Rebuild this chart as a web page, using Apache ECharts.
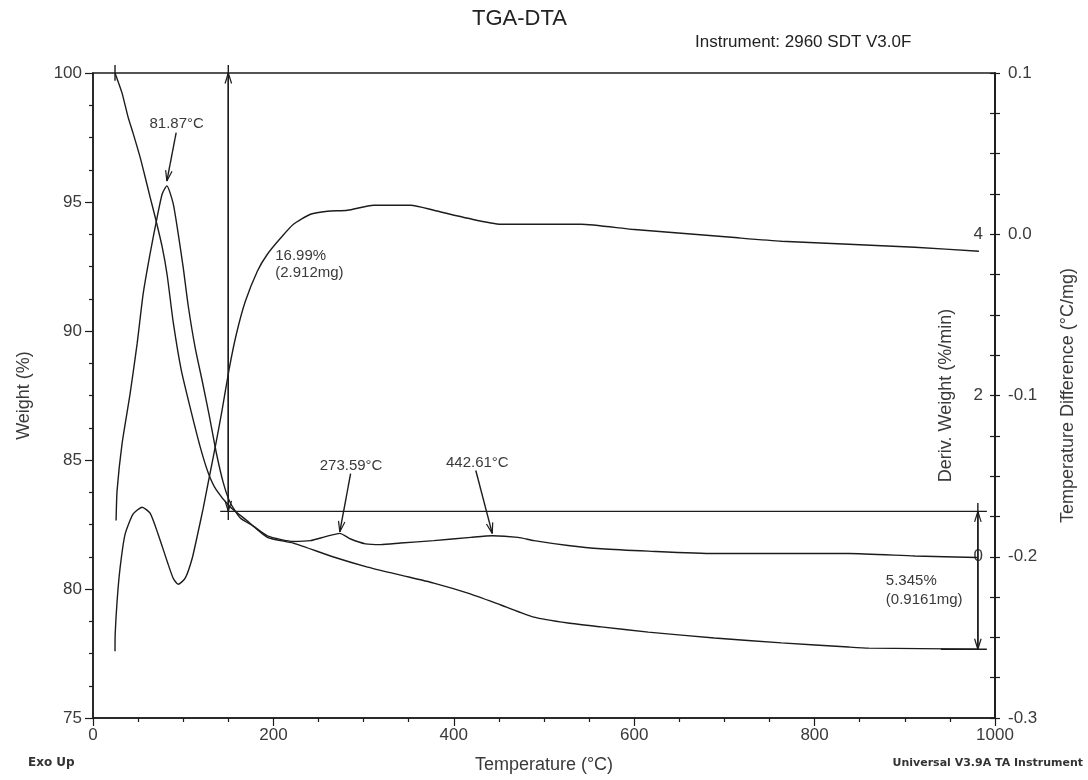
<!DOCTYPE html>
<html>
<head>
<meta charset="utf-8">
<script src="https://cdn.jsdelivr.net/npm/echarts@6/dist/echarts.min.js"></script>
<style>
html,body{margin:0;padding:0;background:#fff;}
#chart{width:1088px;height:780px;}
</style>
</head>
<body>
<div id="chart"></div>
<script>
// ---------- DATA ----------
// TGA weight curve (Temperature °C, Weight %)
const tgaTemp = [24.4, 32.2, 38.9, 44.4, 52.2, 57.8, 63.3, 68.9, 76.7, 82.2, 88.9, 97.8, 107.8, 118.9, 127.8, 136.7, 152.2, 170.0, 193.3, 222.0, 266.7, 304.4, 341.1, 377.8, 415.6, 452.2, 488.9, 526.7, 563.3, 615.6, 688.9, 763.3, 837.8, 860.0, 980.0];
const tgaWeight = [100.0, 99.22, 98.29, 97.67, 96.74, 95.97, 95.19, 94.42, 93.26, 92.17, 90.35, 88.49, 87.02, 85.50, 84.50, 83.84, 83.18, 82.67, 82.00, 81.78, 81.24, 80.85, 80.54, 80.23, 79.84, 79.38, 78.91, 78.68, 78.53, 78.33, 78.10, 77.91, 77.75, 77.71, 77.67];

// DTG derivative weight curve (Temperature °C, %/min)
const dtgTemp = [25.6, 26.7, 32.2, 41.1, 48.9, 55.6, 63.3, 71.1, 76.7, 81.87, 88.9, 94.4, 100.0, 105.6, 113.3, 121.1, 128.9, 136.7, 144.4, 152.2, 163.3, 177.8, 193.3, 222.2, 241.1, 257.8, 273.59, 285.6, 302.2, 318.9, 341.1, 377.8, 418.9, 442.61, 471.1, 488.9, 526.7, 563.3, 615.6, 688.9, 763.3, 837.8, 911.1, 980.0];
const dtgDeriv = [0.45, 0.82, 1.40, 2.02, 2.64, 3.26, 3.76, 4.21, 4.50, 4.60, 4.38, 4.01, 3.59, 3.11, 2.59, 2.18, 1.75, 1.29, 0.92, 0.67, 0.48, 0.38, 0.26, 0.19, 0.20, 0.25, 0.29, 0.22, 0.16, 0.15, 0.17, 0.20, 0.24, 0.26, 0.24, 0.20, 0.14, 0.10, 0.07, 0.04, 0.04, 0.04, 0.01, -0.01];

// DTA temperature difference curve (Temperature °C, °C/mg)
const dtaTemp = [24.4, 24.6, 26.7, 30.0, 35.6, 44.4, 54.4, 63.3, 72.2, 82.2, 88.9, 94.4, 102.2, 110.0, 116.7, 122.2, 127.8, 136.7, 143.3, 151.1, 158.9, 168.9, 182.2, 193.3, 207.8, 222.2, 241.1, 260.0, 282.2, 311.1, 352.2, 377.8, 415.6, 452.2, 541.1, 596.7, 652.2, 707.8, 763.3, 837.8, 911.1, 982.2];
const dtaDiff = [-0.2586, -0.2480, -0.2276, -0.2071, -0.1860, -0.1736, -0.1693, -0.1730, -0.1860, -0.2028, -0.2133, -0.2171, -0.2133, -0.2009, -0.1842, -0.1699, -0.1538, -0.1284, -0.1085, -0.0831, -0.0620, -0.0416, -0.0229, -0.0124, -0.0025, 0.0062, 0.0124, 0.0143, 0.0149, 0.0180, 0.0180, 0.0149, 0.0099, 0.0062, 0.0062, 0.0031, 0.0006, -0.0019, -0.0043, -0.0062, -0.0081, -0.0105];

// Weight-step annotation segments [T1, W1, T2, W2, arrowAtEnd]
const stepSegments = [
  [24.4, 100.31, 24.4, 99.7, 0],
  [150, 100.31, 150, 82.67, 0],
  [150, 91.0, 150, 100.0, 1],
  [150, 91.0, 150, 83.01, 1],
  [141, 83.01, 991, 83.01, 0],
  [981, 83.33, 981, 77.665, 0],
  [981, 80.0, 981, 83.01, 1],
  [981, 80.0, 981, 77.665, 1],
  [940, 77.665, 991, 77.665, 0]
];
const stepTexts = ['16.99%', '(2.912mg)', '5.345%', '(0.9161mg)'];
const stepTextT = [202, 202, 879, 879];
const stepTextW = [92.91, 92.25, 80.31, 79.57];

// DTG peak labels
const peakLabels = ['81.87°C', '273.59°C', '442.61°C'];
const peakT = [81.87, 273.59, 442.61];
const peakTipD = [4.66, 0.31, 0.29];
const peakArrowFromT = [92.2, 285.6, 424.4];
const peakArrowFromD = [5.26, 1.03, 1.07];
const peakLabelT = [92.8, 286.1, 426.1];
const peakLabelD = [5.37, 1.13, 1.17];

// Axis tick values
const xTicks = {min: 0, max: 1000, step: 200};
const weightTicks = {min: 75, max: 100, step: 5};
const derivTicks = {min: -2, max: 6, step: 2, shown: [0, 2, 4]};
const diffTicks = {min: -0.3, max: 0.1, step: 0.1};

// ---------- CHART ----------
const FONT = '"Liberation Sans", Arial, Helvetica, sans-serif';
const SMALLFONT = '"DejaVu Sans", Verdana, sans-serif';
const INK = '#1c1c1c';
const TXT = '#3a3a3a';

function zip(a, b) { return a.map((v, i) => [v, b[i]]); }

function drawSeg(api, s) {
  const p1 = api.coord([s[0], s[1]]);
  const p2 = api.coord([s[2], s[3]]);
  const children = [{
    type: 'line',
    shape: {x1: p1[0], y1: p1[1], x2: p2[0], y2: p2[1]},
    style: {stroke: INK, lineWidth: 1.4}
  }];
  if (s[4]) {
    const dx = p2[0] - p1[0], dy = p2[1] - p1[1];
    const len = Math.sqrt(dx * dx + dy * dy) || 1;
    const ux = dx / len, uy = dy / len;
    const L = 11, a = 0.3;
    [a, -a].forEach(ang => {
      const c = Math.cos(ang), sn = Math.sin(ang);
      const rx = ux * c - uy * sn, ry = ux * sn + uy * c;
      children.push({
        type: 'line',
        shape: {x1: p2[0], y1: p2[1], x2: p2[0] - rx * L, y2: p2[1] - ry * L},
        style: {stroke: INK, lineWidth: 1.2}
      });
    });
  }
  return {type: 'group', children: children};
}

function textEl(api, x, y, txt, align) {
  const p = api.coord([x, y]);
  return {
    type: 'text', x: p[0], y: p[1],
    style: {text: txt, fill: TXT, font: '15px ' + FONT, fontSize: 15, fontFamily: FONT,
      align: align, textAlign: align, verticalAlign: 'middle', textVerticalAlign: 'middle'}
  };
}

const chart = echarts.init(document.getElementById('chart'), null, {renderer: 'canvas'});

const option = {
  animation: false,
  backgroundColor: '#fff',
  title: [
    {text: 'TGA-DTA', left: 472, top: 8, padding: 0,
      textStyle: {fontSize: 22, fontWeight: 'normal', color: '#222', fontFamily: FONT}},
    {text: 'Instrument: 2960 SDT V3.0F', left: 695, top: 34, padding: 0,
      textStyle: {fontSize: 17, fontWeight: 'normal', color: '#222', fontFamily: FONT}},
    {text: 'Exo Up', left: 28, top: 757, padding: 0,
      textStyle: {fontSize: 12, fontWeight: 'bold', color: '#333', fontFamily: SMALLFONT}},
    {text: 'Universal V3.9A TA Instrument', right: 5, top: 758, padding: 0,
      textStyle: {fontSize: 11, fontWeight: 'bold', color: '#333', fontFamily: SMALLFONT}}
  ],
  grid: {left: 93, right: 93, top: 73, bottom: 62, show: true,
    borderColor: INK, borderWidth: 1.5, backgroundColor: 'transparent'},
  xAxis: {
    type: 'value', min: xTicks.min, max: xTicks.max, interval: xTicks.step,
    name: 'Temperature (°C)', nameLocation: 'middle', nameGap: 38,
    nameTextStyle: {fontSize: 18, color: TXT, fontFamily: FONT},
    axisLine: {show: true, onZero: false, lineStyle: {color: INK, width: 1.5}},
    axisTick: {show: true, length: 8, lineStyle: {color: INK, width: 1.2}},
    minorTick: {show: true, splitNumber: 4, length: 4, lineStyle: {color: INK, width: 1.2}},
    splitLine: {show: false},
    axisLabel: {fontSize: 17, color: TXT, fontFamily: FONT, margin: 9, formatter: v => String(v)}
  },
  yAxis: [
    {
      type: 'value', position: 'left', min: weightTicks.min, max: weightTicks.max, interval: weightTicks.step,
      name: 'Weight (%)', nameLocation: 'middle', nameGap: 60, nameRotate: 90,
      nameTextStyle: {fontSize: 18, color: TXT, fontFamily: FONT},
      axisLine: {show: true, onZero: false, lineStyle: {color: INK, width: 1.5}},
      axisTick: {show: true, length: 8, lineStyle: {color: INK, width: 1.2}},
      minorTick: {show: true, splitNumber: 4, length: 4, lineStyle: {color: INK, width: 1.2}},
      splitLine: {show: false},
      axisLabel: {fontSize: 17, color: TXT, fontFamily: FONT, margin: 11}
    },
    {
      type: 'value', position: 'right', min: derivTicks.min, max: derivTicks.max, interval: derivTicks.step,
      name: 'Deriv. Weight (%/min)', nameLocation: 'middle', nameGap: -58, nameRotate: 90,
      nameTextStyle: {fontSize: 18, color: TXT, fontFamily: FONT},
      axisLine: {show: true, onZero: false, lineStyle: {color: INK, width: 1.5}},
      axisTick: {show: true, inside: true, length: 5, lineStyle: {color: INK, width: 1.2}},
      minorTick: {show: true, splitNumber: 4, length: 5, lineStyle: {color: INK, width: 1.2}},
      splitLine: {show: false},
      axisLabel: {inside: true, fontSize: 17, color: TXT, fontFamily: FONT, margin: 12,
        formatter: v => (derivTicks.shown.indexOf(Math.round(v)) >= 0 ? String(Math.round(v)) : '')}
    },
    {
      type: 'value', position: 'right', min: diffTicks.min, max: diffTicks.max, interval: diffTicks.step,
      name: 'Temperature Difference (°C/mg)', nameLocation: 'middle', nameGap: 64, nameRotate: 90,
      nameTextStyle: {fontSize: 18, color: TXT, fontFamily: FONT},
      axisLine: {show: true, onZero: false, lineStyle: {color: INK, width: 1.5}},
      axisTick: {show: true, length: 5, lineStyle: {color: INK, width: 1.2}},
      minorTick: {show: true, splitNumber: 4, length: 5, lineStyle: {color: INK, width: 1.2}},
      splitLine: {show: false},
      axisLabel: {fontSize: 17, color: TXT, fontFamily: FONT, margin: 13,
        formatter: v => v.toFixed(1)}
    }
  ],
  series: [
    {
      name: 'Weight', type: 'line', xAxisIndex: 0, yAxisIndex: 0,
      data: zip(tgaTemp, tgaWeight), showSymbol: false, symbol: 'none', smooth: 0.2,
      lineStyle: {color: INK, width: 1.4}
    },
    {
      name: 'Deriv. Weight', type: 'line', xAxisIndex: 0, yAxisIndex: 1,
      data: zip(dtgTemp, dtgDeriv), showSymbol: false, symbol: 'none', smooth: 0.2,
      lineStyle: {color: INK, width: 1.4}
    },
    {
      name: 'Temperature Difference', type: 'line', xAxisIndex: 0, yAxisIndex: 2,
      data: zip(dtaTemp, dtaDiff), showSymbol: false, symbol: 'none', smooth: 0.2,
      lineStyle: {color: INK, width: 1.4}
    },
    {
      name: 'steps', type: 'custom', xAxisIndex: 0, yAxisIndex: 0, clip: false, silent: true,
      data: stepSegments,
      renderItem: (params, api) => drawSeg(api, stepSegments[params.dataIndex])
    },
    {
      name: 'stepText', type: 'custom', xAxisIndex: 0, yAxisIndex: 0, clip: false, silent: true,
      data: zip(stepTextT, stepTextW),
      renderItem: (params, api) => textEl(api, stepTextT[params.dataIndex], stepTextW[params.dataIndex], stepTexts[params.dataIndex], 'left')
    },
    {
      name: 'peaks', type: 'custom', xAxisIndex: 0, yAxisIndex: 1, clip: false, silent: true,
      data: zip(peakT, peakTipD),
      renderItem: (params, api) => {
        const i = params.dataIndex;
        const seg = drawSeg(api, [peakArrowFromT[i], peakArrowFromD[i], peakT[i], peakTipD[i], 1]);
        seg.children.push(textEl(api, peakLabelT[i], peakLabelD[i], peakLabels[i], 'center'));
        return seg;
      }
    }
  ]
};
chart.setOption(option);
</script>
</body>
</html>
